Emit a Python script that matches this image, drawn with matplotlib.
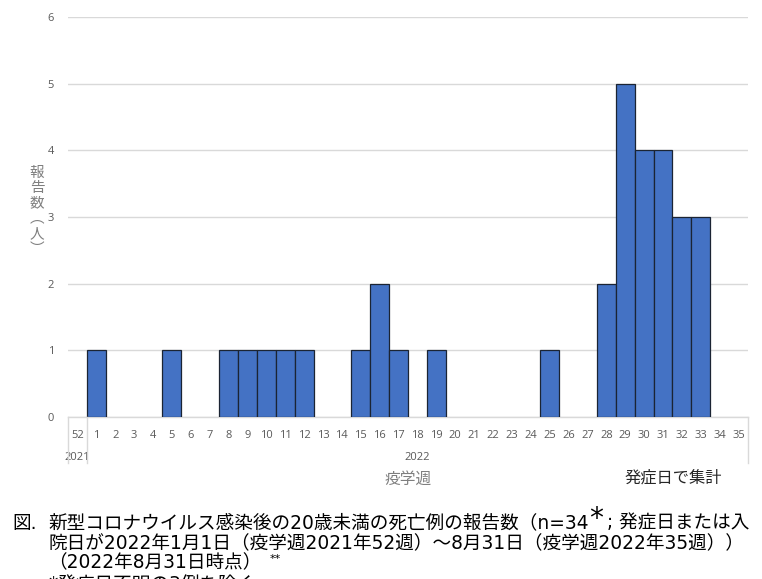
import matplotlib
matplotlib.use('Agg')
import matplotlib.pyplot as plt
from matplotlib.transforms import blended_transform_factory
from matplotlib.lines import Line2D

# ---- data ----
weeks = ['52'] + [str(i) for i in range(1, 36)]
counts = [0, 1, 0, 0, 0, 1, 0, 0, 1, 1, 1, 1, 1, 0, 0, 1, 2, 1, 0, 1,
          0, 0, 0, 0, 0, 1, 0, 0, 2, 5, 4, 4, 3, 3, 0, 0]
years = ['2021', '2022']
year_first = [0, 1]
year_last = [0, 35]
y_ticks = [0, 1, 2, 3, 4, 5, 6]

xlabel = '疫学週'
ylabel = '報\n告\n数\n︵\n人\n︶'
note = '発症日で集計'
cap_fig = '図.'
cap1a = '新型コロナウイルス感染後の20歳未満の死亡例の報告数（n=34'
cap1b = '*'
cap1c = '; 発症日または入'
cap2 = '院日が2022年1月1日（疫学週2021年52週）～8月31日（疫学週2022年35週））'
cap3 = '（2022年8月31日時点）'
cap3b = '**'
cap4 = '*発症日不明の3例を除く'

CJK = ['Noto Sans CJK JP', 'DejaVu Sans']
MIX = ['DejaVu Sans', 'Noto Sans CJK JP']
plt.rcParams['font.family'] = CJK

W, H = 762, 579
fig = plt.figure(figsize=(W / 100, H / 100), dpi=100)
fig.patch.set_facecolor('white')

x0, x1 = 68, 748
yb, yt = 417, 17
ax = fig.add_axes([x0 / W, 1 - yb / H, (x1 - x0) / W, (yb - yt) / H])

xs = [i for i, c in enumerate(counts) if c > 0]
hs = [c for c in counts if c > 0]
ax.bar(xs, hs, width=1.0, color='#4472C4', edgecolor='#1b2433', linewidth=0.9, zorder=3)

ax.set_xlim(-0.5, len(weeks) - 0.5)
ax.set_ylim(0, 6)
ax.set_yticks(y_ticks)
ax.set_yticklabels([str(v) for v in y_ticks], fontsize=8, color='#595959', family=['Open Sans'])
ax.set_xticks(range(len(weeks)))
ax.set_xticklabels(weeks, fontsize=8, color='#595959', family=['Open Sans'])
ax.tick_params(axis='both', length=0)
ax.tick_params(axis='x', pad=9)
ax.tick_params(axis='y', pad=10)
ax.grid(axis='y', color='#d9d9d9', linewidth=1.0)
ax.set_axisbelow(True)
for s in ['top', 'right', 'left']:
    ax.spines[s].set_visible(False)
ax.spines['bottom'].set_color('#d9d9d9')
ax.spines['bottom'].set_linewidth(1.0)

tr = blended_transform_factory(ax.transData, fig.transFigure)
for f, l, yr in zip(year_first, year_last, years):
    ax.text((f + l) / 2, 1 - 457 / H, yr, transform=tr, ha='center', va='center',
            fontsize=8, color='#595959', family=['Open Sans'])
bounds = sorted(set([f - 0.5 for f in year_first] + [l + 0.5 for l in year_last]))
for b in bounds:
    fig.add_artist(Line2D([b, b], [1 - yb / H, 1 - 463 / H], transform=tr,
                          color='#d9d9d9', linewidth=1.0))

fig.text(408 / W, 1 - 479 / H, xlabel, ha='center', va='center', fontsize=11.3, color='#7f7f7f')
fig.text(673 / W, 1 - 478 / H, note, ha='center', va='center', fontsize=11.7, color='#262626')
fig.text(37 / W, 1 - 211 / H, ylabel, ha='center', va='center', fontsize=10.5, color='#7f7f7f',
         linespacing=1.12)

cs = 13.4
fig.text(12 / W, 1 - 523 / H, cap_fig, ha='left', va='center', fontsize=cs, color='black', family=MIX)
ta = fig.text(48 / W, 1 - 523 / H, cap1a, ha='left', va='center', fontsize=cs, color='black', family=MIX)
ax.annotate(cap1b, xy=(1, 0.5), xycoords=ta, xytext=(0.5, 3), textcoords='offset points',
            ha='left', va='center', fontsize=cs * 1.5, color='black', family=MIX)
ax.annotate(cap1c, xy=(1, 0.5), xycoords=ta, xytext=(13, 0), textcoords='offset points',
            ha='left', va='center', fontsize=cs, color='black', family=MIX)
fig.text(48 / W, 1 - 544 / H, cap2, ha='left', va='center', fontsize=cs, color='black', family=MIX)
t3 = fig.text(48 / W, 1 - 563 / H, cap3, ha='left', va='center', fontsize=cs, color='black', family=MIX)
ax.annotate(cap3b, xy=(1, 0.5), xycoords=t3, xytext=(6, 3), textcoords='offset points',
            ha='left', va='center', fontsize=8, color='black', family=MIX)
fig.text(48 / W, 1 - 585 / H, cap4, ha='left', va='center', fontsize=cs, color='black', family=MIX)

fig.savefig('out.png', dpi=100, facecolor='white')
